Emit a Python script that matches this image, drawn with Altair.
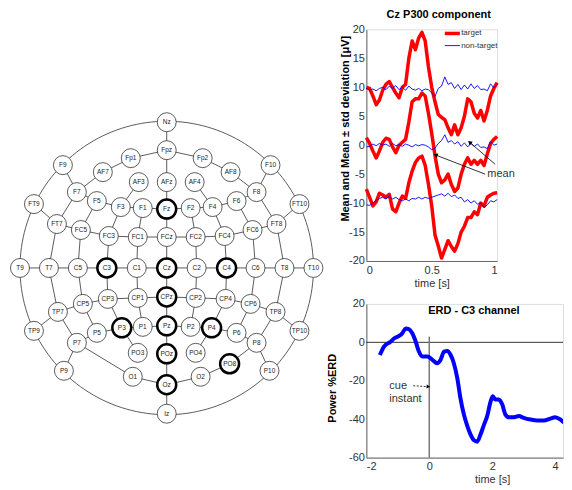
import altair as alt
import pandas as pd
import numpy as np

FONT = "Liberation Sans"

# ---------------- electrode map data (head-centred, y up) ----------------
el_names = ["Nz", "Fpz", "AFz", "Fz", "FCz", "Cz", "CPz", "Pz", "POz", "Oz", "Iz",
            "Fp1", "Fp2", "AF7", "AF8", "AF3", "AF4", "F9", "F10", "F7", "F8",
            "F5", "F6", "F3", "F4", "F1", "F2",
            "FT9", "FT10", "FT7", "FT8", "FC5", "FC6", "FC3", "FC4", "FC1", "FC2",
            "T9", "T10", "T7", "T8", "C5", "C6", "C3", "C4", "C1", "C2",
            "CP1", "CP2", "CP3", "CP4", "CP5", "CP6", "TP7", "TP8", "TP9", "TP10",
            "P1", "P2", "P3", "P4", "P5", "P6", "P7", "P8", "P9", "P10",
            "PO3", "PO4", "PO8", "O1", "O2"]
el_x = [0, 0, 0, 0, 0, 0, 0, 0, 0, 0, 0,
        -36, 36, -64, 64, -28, 28, -104, 104, -90, 90,
        -70, 70, -46, 46, -24, 24,
        -133, 133, -110, 110, -86, 86, -58, 58, -29, 29,
        -147, 147, -118, 118, -89, 89, -60, 60, -30, 30,
        -29, 29, -59, 59, -84, 84, -109, 109, -133, 133,
        -24, 24, -45, 45, -70, 70, -90, 90, -103, 103,
        -29, 29, 63, -34, 34]
el_y = [146, 118, 86, 59, 31, 0, -29, -58, -86, -117, -146,
        110, 110, 96, 96, 86, 86, 103, 103, 76, 76,
        67, 67, 61, 61, 60, 60,
        64, 64, 44, 44, 38, 38, 32, 32, 31, 31,
        0, 0, 0, 0, 0, 0, 0, 0, 0, 0,
        -30, -30, -31, -31, -36, -36, -44, -44, -63, -63,
        -59, -59, -60, -60, -65, -65, -75, -75, -103, -103,
        -85, -85, -96, -109, -109]
bold_electrodes = ["Fz", "C3", "Cz", "C4", "CPz", "P3", "Pz", "P4", "POz", "Oz", "PO8"]
edges = [
    "Nz-Fpz", "Fpz-AFz", "AFz-Fz", "Fz-FCz", "FCz-Cz", "Cz-CPz", "CPz-Pz", "Pz-POz", "POz-Oz", "Oz-Iz",
    "Fpz-Fp1", "Fp1-AF7", "AF7-F7", "F9-F7", "F7-FT7", "FT9-FT7", "FT7-T7", "F7-F5", "F5-F3", "F3-F1",
    "F1-Fz", "AF3-F3", "F5-FC5", "F3-FC3", "F1-FC1", "FT7-FC5", "FC5-FC3", "FC3-FC1", "FC1-FCz",
    "FC5-C5", "FC3-C3", "FC1-C1",
    "T9-T7", "T7-C5", "C5-C3", "C3-C1", "C1-Cz", "Cz-C2", "C2-C4", "C4-C6", "C6-T8", "T8-T10",
    "T7-TP7", "C5-CP5", "C3-CP3", "C1-CP1", "TP9-TP7", "TP7-CP5", "CP5-CP3", "CP3-CP1", "CP1-CPz",
    "TP7-P7", "CP5-P5", "CP3-P3", "CP1-P1", "P5-P3", "P3-P1", "P1-Pz", "P7-P9", "P7-P5", "P3-PO3",
    "P7-O1", "O1-Oz",
    "Fpz-Fp2", "Fp2-AF8", "AF8-F8", "F10-F8", "F8-FT8", "FT10-FT8", "FT8-T8", "F8-F6", "F6-F4", "F4-F2",
    "F2-Fz", "AF4-F4", "F6-FC6", "F4-FC4", "F2-FC2", "FT8-FC6", "FC6-FC4", "FC4-FC2", "FC2-FCz",
    "FC6-C6", "FC4-C4", "FC2-C2",
    "T8-TP8", "C6-CP6", "C4-CP4", "C2-CP2", "TP10-TP8", "TP8-CP6", "CP6-CP4", "CP4-CP2", "CP2-CPz",
    "TP8-P8", "CP6-P6", "CP4-P4", "CP2-P2", "P6-P4", "P4-P2", "P2-Pz", "P8-P10", "P8-P6", "P4-PO4",
    "P8-PO8", "PO8-O2", "O2-Oz",
]
HEAD_R = 147

# ---------------- P300 data ----------------
t_p300 = [0.0, 0.025, 0.05, 0.075, 0.1, 0.125, 0.15, 0.175, 0.2, 0.225, 0.25, 0.275, 0.3, 0.325,
          0.35, 0.375, 0.4, 0.425, 0.45, 0.475, 0.5, 0.525, 0.55, 0.575, 0.6, 0.625, 0.65, 0.675,
          0.7, 0.725, 0.75, 0.775, 0.8, 0.825, 0.85, 0.875, 0.9, 0.925, 0.95, 0.975, 1.0]
target_upper = [10.0, 9.8, 8.5, 7.0, 7.8, 9.5, 10.5, 11.0, 10.0, 9.0, 8.2, 10.0, 10.5, 15.0,
                18.0, 16.5, 18.5, 19.5, 18.0, 13.5, 10.0, 7.5, 5.3, 4.8, 4.4, 3.0, 1.8, 3.5,
                1.8, 3.0, 5.0, 8.0, 7.5, 5.5, 4.7, 6.0, 4.2, 6.0, 8.5, 9.8, 10.8]
target_mean = [1.3, 0.3, -1.0, -2.2, -1.0, 0.5, 1.2, 1.0, -0.3, -1.3, 0.0, 0.5, 1.0, 4.0,
               7.5, 8.0, 8.0, 9.0, 8.5, 5.5, 2.0, -1.8, -5.0, -6.5, -6.0, -5.0, -6.8, -8.0,
               -7.4, -5.0, -3.3, -2.2, -3.3, -2.6, -3.3, -2.6, -3.5, -1.5, 0.3, 1.0, 1.5]
target_lower = [-7.6, -9.0, -10.5, -9.8, -8.3, -8.6, -9.0, -8.5, -11.0, -11.5, -10.0, -8.8, -9.2, -6.5,
                -4.5, -3.0, -2.2, -1.9, -3.5, -6.8, -10.5, -15.5, -17.4, -19.5, -18.0, -16.5, -17.5, -18.3,
                -17.0, -15.0, -14.0, -12.5, -12.5, -11.5, -12.0, -10.0, -10.5, -9.0, -8.6, -8.3, -8.2]
nontarget_upper = [9.8, 9.5, 9.7, 9.4, 9.8, 10.0, 9.6, 10.2, 9.8, 10.3, 9.6, 10.0, 9.5, 10.2,
                   9.7, 9.5, 9.8, 9.4, 9.7, 9.6, 9.0, 8.4, 9.8, 10.2, 11.8, 10.5, 10.8, 9.8,
                   10.5, 9.6, 10.4, 9.7, 10.6, 9.8, 10.3, 9.6, 9.7, 9.4, 10.6, 9.9, 10.5]
nontarget_mean = [-0.3, -0.2, 0.2, -0.1, 0.3, 0.0, 0.2, -0.2, 0.3, -0.1, 0.1, -0.2, 0.2, 0.0,
                  -0.3, 0.1, -0.1, 0.1, 0.0, -0.3, -0.8, -0.5, 0.3, 0.8, 1.8, 0.5, 0.8, 0.2,
                  0.6, -0.2, 0.4, -0.3, 0.3, -0.2, 0.2, -0.4, -0.3, -0.6, 0.6, 0.0, 0.2]
nontarget_lower = [-10.3, -10.4, -10.0, -9.5, -9.2, -9.0, -9.3, -8.8, -9.3, -9.0, -9.4, -9.6, -9.3, -9.6,
                   -9.2, -9.3, -9.0, -9.3, -9.0, -9.2, -9.0, -8.8, -8.6, -8.4, -8.8, -8.3, -8.9, -8.6,
                   -9.2, -9.0, -9.8, -9.4, -10.0, -9.6, -10.2, -10.0, -10.8, -10.3, -9.6, -9.8, -9.4]
p300_yticks = [-20, -15, -10, -5, 0, 5, 10, 15, 20]
p300_xticks = [0, 0.5, 1]
legend_series = ["target", "non-target"]

# ---------------- ERD data ----------------
t_erd = [-1.57, -1.44, -1.23, -1.12, -0.96, -0.86, -0.75, -0.65, -0.54, -0.43, -0.33, -0.22, -0.06,
         0.10, 0.25, 0.36, 0.47, 0.57, 0.68, 0.78, 0.89, 0.99, 1.10, 1.21, 1.31, 1.42, 1.52, 1.63,
         1.74, 1.84, 1.95, 2.02, 2.10, 2.21, 2.32, 2.42, 2.53, 2.69, 2.85, 3.00, 3.22, 3.43, 3.64,
         3.85, 4.00, 4.17, 4.33, 4.47]
v_erd = [-6.6, -2.2, 0.3, 2.0, 3.3, 4.7, 7.2, 6.9, 4.7, 0.3, -4.8, -7.4, -7.4,
         -9.1, -10.9, -9.1, -4.8, -4.5, -6.6, -10.9, -18.6, -29.0, -37.6, -43.6, -47.9, -51.0, -51.7, -47.9,
         -42.8, -38.4, -30.7, -28.0, -29.8, -29.8, -32.4, -37.6, -39.0, -39.0, -38.4, -39.3, -40.2, -40.7, -40.7,
         -39.7, -39.0, -40.2, -42.4, -43.6]
erd_yticks = [-60, -40, -20, 0, 20]
erd_xticks = [-2, 0, 2, 4]
cue_top = 3

# ======================= electrode map chart =======================
pos = dict(zip(el_names, zip(el_x, el_y)))
edge_df = pd.DataFrame([
    {"x": pos[a][0], "y": pos[a][1], "x2": pos[b][0], "y2": pos[b][1]}
    for a, b in (e.split("-") for e in edges)
])
el_df = pd.DataFrame({"name": el_names, "x": el_x, "y": el_y})
el_df["bold"] = el_df["name"].isin(bold_electrodes)
ang = np.linspace(0, 2 * np.pi, 181)
head_df = pd.DataFrame({"i": np.arange(len(ang)), "x": HEAD_R * np.cos(ang), "y": HEAD_R * np.sin(ang)})

MAP_TOP = 239
MAP_H = 400
mx = alt.Scale(domain=[-158, 158], nice=False, zero=False)
my = alt.Scale(domain=[MAP_TOP - MAP_H, MAP_TOP], nice=False, zero=False)
X = lambda f: alt.X(f, type="quantitative", scale=mx, axis=None)
Y = lambda f: alt.Y(f, type="quantitative", scale=my, axis=None)

head = alt.Chart(head_df).mark_line(color="#333", strokeWidth=0.8).encode(
    x=X("x"), y=Y("y"), order="i:Q")
links = alt.Chart(edge_df).mark_rule(color="#333", strokeWidth=0.8).encode(
    x=X("x"), y=Y("y"), x2="x2", y2="y2")
nodes = alt.Chart(el_df).transform_filter("!datum.bold").mark_point(
    shape="circle", filled=True, fill="white", stroke="#333", strokeWidth=0.8, size=361, opacity=1
).encode(x=X("x"), y=Y("y"))
nodes_b = alt.Chart(el_df).transform_filter("datum.bold").mark_point(
    shape="circle", filled=True, fill="white", stroke="black", strokeWidth=2.5, size=361, opacity=1
).encode(x=X("x"), y=Y("y"))
node_txt = alt.Chart(el_df).mark_text(fontSize=6.5, font=FONT, color="#222").encode(
    x=X("x"), y=Y("y"), text="name:N")
emap = alt.layer(head, links, nodes, nodes_b, node_txt).properties(
    width=316, height=MAP_H, view=alt.ViewBackground(stroke="transparent", strokeWidth=0, strokeOpacity=0))

# ======================= P300 chart =======================
rows = []
for series, part, vals in [("target", "upper", target_upper), ("target", "mean", target_mean),
                           ("target", "lower", target_lower), ("non-target", "upper", nontarget_upper),
                           ("non-target", "mean", nontarget_mean), ("non-target", "lower", nontarget_lower)]:
    for t, v in zip(t_p300, vals):
        rows.append({"t": t, "v": v, "series": series, "line": series + part})
p_df = pd.DataFrame(rows)

px_sc = alt.Scale(domain=[0, 1], nice=False, zero=False)
py_sc = alt.Scale(domain=[-20, 20], nice=False, zero=False)
col_sc = alt.Scale(domain=legend_series, range=["#ff0000", "#0000ff"])
sw_sc = alt.Scale(domain=legend_series, range=[3.5, 0.9])
ax_common = dict(grid=False, ticks=False, labelFontSize=11, labelColor="#333", labelFont=FONT,
                 domainColor="#666", titleFont=FONT, labelExpr="datum.value + ''", labelOverlap=False,
                 tickCount=50)

p_lines = alt.Chart(p_df).mark_line(strokeJoin="round").encode(
    x=alt.X("t:Q", scale=px_sc, axis=alt.Axis(values=p300_xticks, title="time [s]", titleFontSize=11,
                                              titleFontWeight="normal", titleColor="#333", labelPadding=4,
                                              titlePadding=2, **ax_common)),
    y=alt.Y("v:Q", scale=py_sc, axis=alt.Axis(values=p300_yticks, title="Mean and Mean ± std deviation [μV]",
                                              titleFontSize=11, titleFontWeight="bold", titleColor="black",
                                              labelPadding=2, titleX=-15.5, titleY=99, **ax_common)),
    color=alt.Color("series:N", scale=col_sc, legend=None),
    strokeWidth=alt.StrokeWidth("series:N", scale=sw_sc, legend=None),
    detail="line:N",
)

# hand-made legend in the upper right of the axes
leg_df = pd.DataFrame({"series": legend_series, "x": [0.6, 0.6], "x2": [0.715, 0.715],
                       "y": [19.3, 17.2], "tx": [0.725, 0.725]})
leg_lines = alt.Chart(leg_df).mark_rule().encode(
    x=alt.X("x:Q", scale=px_sc), x2="x2", y=alt.Y("y:Q", scale=py_sc),
    color=alt.Color("series:N", scale=col_sc, legend=None),
    strokeWidth=alt.StrokeWidth("series:N", scale=sw_sc, legend=None))
leg_txt = alt.Chart(leg_df).mark_text(align="left", baseline="middle", fontSize=8, font=FONT,
                                      color="#333").encode(
    x=alt.X("tx:Q", scale=px_sc), y=alt.Y("y:Q", scale=py_sc), text="series:N")

mean_arrows = pd.DataFrame({"x": [0.985, 0.908], "y": [-3.3, -5.0], "x2": [0.79, 0.53], "y2": [0.5, -1.7]})
mean_arrows["ang"] = np.degrees(np.arctan2((mean_arrows.x2 - mean_arrows.x) * 130,
                                           (mean_arrows.y2 - mean_arrows.y) * 5.8)) % 360
p_arr = alt.Chart(mean_arrows).mark_rule(color="black", strokeWidth=0.8).encode(
    x=alt.X("x:Q", scale=px_sc), y=alt.Y("y:Q", scale=py_sc), x2="x2", y2="y2")
p_head = alt.Chart(mean_arrows).mark_point(shape="triangle-up", filled=True, color="black", size=22,
                                           opacity=1).encode(
    x=alt.X("x2:Q", scale=px_sc), y=alt.Y("y2:Q", scale=py_sc), angle=alt.Angle("ang:Q", scale=None))
p_txt = alt.Chart(pd.DataFrame({"x": [0.925], "y": [-5.0], "s": ["mean"]})).mark_text(
    align="left", baseline="middle", fontSize=11, font=FONT, color="#333").encode(
    x=alt.X("x:Q", scale=px_sc), y=alt.Y("y:Q", scale=py_sc), text="s:N")

p300 = alt.layer(p_lines, leg_lines, leg_txt, p_arr, p_head, p_txt).properties(
    width=131, height=232,
    title=alt.TitleParams("Cz P300 component", fontSize=11, fontWeight="bold", font=FONT, color="black",
                          offset=3, dx=7, anchor="middle", frame="group"))

# ======================= ERD chart =======================
e_df = pd.DataFrame({"t": t_erd, "v": v_erd})
ex_sc = alt.Scale(domain=[-2, 4.25], nice=False, zero=False)
ey_sc = alt.Scale(domain=[-60, 20], nice=False, zero=False)

e_line = alt.Chart(e_df).mark_line(color="#0000ff", strokeWidth=4, strokeJoin="round",
                                   interpolate="monotone", clip=True).encode(
    x=alt.X("t:Q", scale=ex_sc, axis=alt.Axis(values=erd_xticks, title="time [s]", titleFontSize=11,
                                              titleFontWeight="normal", titleColor="#333", labelPadding=3,
                                              titlePadding=2, titleX=126, **ax_common)),
    y=alt.Y("v:Q", scale=ey_sc, axis=alt.Axis(values=erd_yticks, title="Power %ERD", titleFontSize=11,
                                              titleFontWeight="bold", titleColor="black", labelPadding=2,
                                              titleX=-28.5, titleY=84, **ax_common)),
)
zero_df = pd.DataFrame({"y": [0]})
e_zero = alt.Chart(zero_df).mark_rule(color="black", strokeWidth=0.8).encode(y=alt.Y("y:Q", scale=ey_sc))
cue_df = pd.DataFrame({"x": [0], "y": [-60], "y2": [cue_top]})
e_cue = alt.Chart(cue_df).mark_rule(color="#777", strokeWidth=1.5).encode(
    x=alt.X("x:Q", scale=ex_sc), y=alt.Y("y:Q", scale=ey_sc), y2="y2")
e_title = alt.Chart(pd.DataFrame({"x": [1.42], "y": [16.4], "s": ["ERD - C3 channel"]})).mark_text(
    fontSize=11, fontWeight="bold", font=FONT, color="black").encode(
    x=alt.X("x:Q", scale=ex_sc), y=alt.Y("y:Q", scale=ey_sc), text="s:N")
e_lbl = alt.Chart(pd.DataFrame({"x": [-1.27, -1.27], "y": [-22.6, -29.4], "s": ["cue", "instant"]})).mark_text(
    align="left", fontSize=11, font=FONT, color="#333").encode(
    x=alt.X("x:Q", scale=ex_sc), y=alt.Y("y:Q", scale=ey_sc), text="s:N")
cue_arrow = pd.DataFrame({"x": [-0.51], "y": [-22.6], "x2": [-0.03], "y2": [-23.1]})
cue_arrow["ang"] = np.degrees(np.arctan2((cue_arrow.x2 - cue_arrow.x) * 31.5,
                                         (cue_arrow.y2 - cue_arrow.y) * 1.925)) % 360
e_arr = alt.Chart(cue_arrow).mark_rule(color="black", strokeWidth=0.8, strokeDash=[2, 1.5]).encode(
    x=alt.X("x:Q", scale=ex_sc), y=alt.Y("y:Q", scale=ey_sc), x2="x2", y2="y2")
e_head = alt.Chart(cue_arrow).mark_point(shape="triangle-up", filled=True, color="black", size=16,
                                         opacity=1).encode(
    x=alt.X("x2:Q", scale=ex_sc), y=alt.Y("y2:Q", scale=ey_sc), angle=alt.Angle("ang:Q", scale=None))

erd = alt.layer(e_zero, e_cue, e_line, e_title, e_lbl, e_arr, e_head).properties(width=197, height=154)

right = alt.vconcat(p300, erd, spacing=43, bounds="flush")
chart = alt.hconcat(emap, right, spacing=1).properties(padding=0).configure_view(
    strokeWidth=0, strokeOpacity=0).configure(font=FONT)

chart.save("out.html", embed_options={"renderer": "svg", "actions": False})
